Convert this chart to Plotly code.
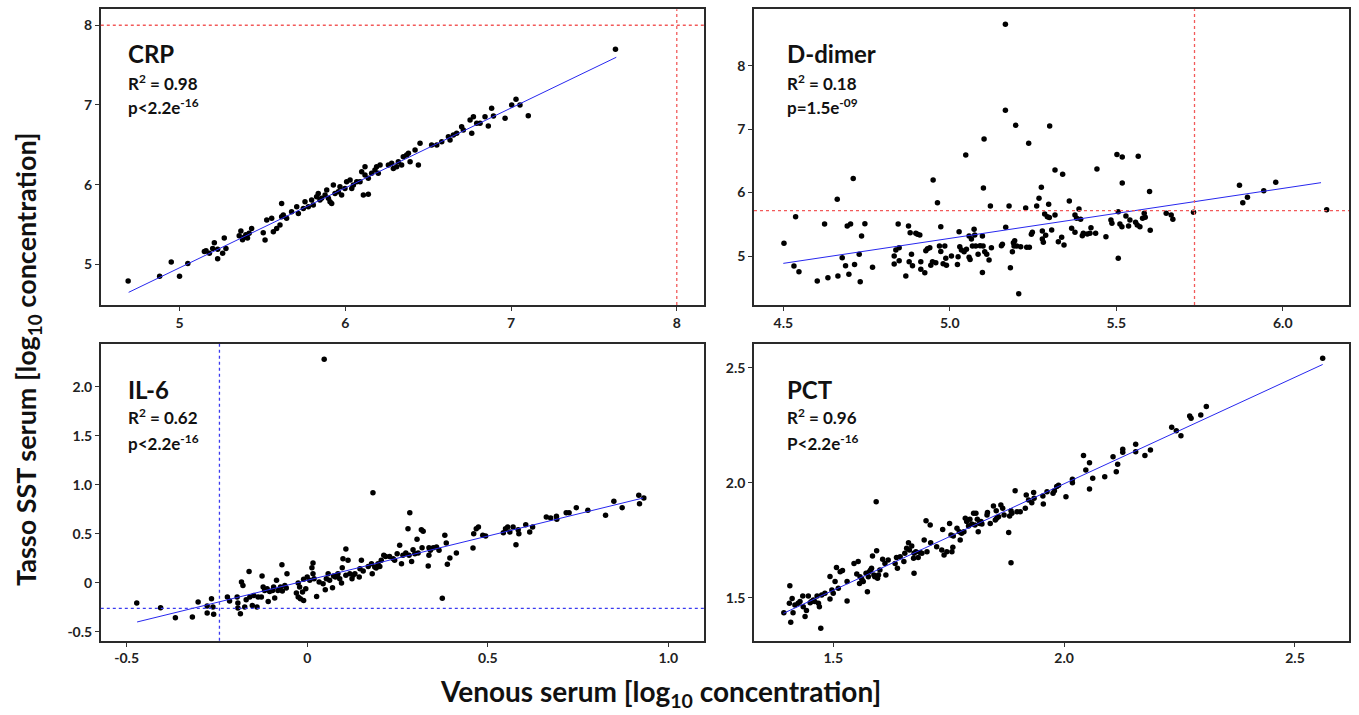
import plotly.graph_objects as go

W, H = 1359, 715

# ---------------- data (log10 concentrations) ----------------
crp_x = [4.69, 4.88, 4.95, 5.00, 5.05, 5.15, 5.16, 5.18, 5.20, 5.21, 5.23, 5.23, 5.26, 5.27, 5.28,
         5.36, 5.37, 5.38, 5.39, 5.40, 5.41, 5.42,
         5.435, 5.505, 5.516, 5.526, 5.556, 5.566, 5.586, 5.606, 5.616, 5.616, 5.626, 5.646, 5.676,
         5.707, 5.717, 5.747, 5.757, 5.777, 5.797, 5.807, 5.827, 5.837, 5.847, 5.857, 5.878, 5.888,
         5.898, 5.908, 5.918, 5.928, 5.938, 5.958, 5.968, 5.978, 5.998, 6.008, 6.029, 6.039, 6.049,
         6.069, 6.089, 6.099, 6.109, 6.119, 6.119, 6.139, 6.139, 6.159, 6.179, 6.189, 6.199, 6.210,
         6.260, 6.280, 6.290, 6.310, 6.320, 6.340, 6.350, 6.370, 6.381, 6.391, 6.421, 6.441, 6.451,
         6.521, 6.552, 6.582, 6.622, 6.632, 6.652, 6.672, 6.702, 6.712, 6.753, 6.763, 6.773, 6.793,
         6.813, 6.843, 6.863, 6.883, 6.894, 6.964, 7.004, 7.030, 7.054, 7.104, 7.63]
crp_y = [4.79, 4.85, 5.03, 4.85, 5.01, 5.16, 5.17, 5.14, 5.20, 5.27, 5.19, 5.07, 5.14, 5.33, 5.20,
         5.36, 5.42, 5.31, 5.34, 5.37, 5.33, 5.39,
         5.451, 5.397, 5.305, 5.556, 5.577, 5.409, 5.451, 5.493, 5.765, 5.598, 5.619, 5.577, 5.660,
         5.723, 5.639, 5.702, 5.786, 5.723, 5.807, 5.744, 5.849, 5.890, 5.807, 5.828, 5.870, 5.932,
         5.828, 5.786, 5.765, 5.995, 5.890, 5.911, 5.974, 5.870, 5.953, 6.037, 6.058, 5.953, 5.995,
         6.037, 6.037, 6.162, 5.870, 6.225, 6.121, 5.878, 6.079, 6.142, 6.183, 6.225, 6.142, 6.246,
         6.246, 6.267, 6.204, 6.225, 6.288, 6.246, 6.351, 6.372, 6.393, 6.288, 6.434, 6.246, 6.518,
         6.497, 6.497, 6.539, 6.602, 6.560, 6.623, 6.644, 6.727, 6.685, 6.811, 6.644, 6.853, 6.769,
         6.769, 6.853, 6.736, 6.957, 6.861, 6.832, 6.999, 7.070, 6.999, 6.865, 7.70]
crp_fit_x = [4.693, 7.635]
crp_fit_y = [4.649, 7.598]

dd_x = [4.502, 4.532, 4.537, 4.547, 4.602, 4.624, 4.634, 4.662, 4.664, 4.677, 4.687, 4.692, 4.697,
        4.702, 4.710, 4.714, 4.728, 4.731, 4.735, 4.745, 4.768, 4.833, 4.833, 4.838, 4.845, 4.848,
        4.848, 4.868, 4.876, 4.878, 4.881, 4.885, 4.888, 4.898, 4.903, 4.910, 4.913, 4.913, 4.925,
        4.928, 4.933, 4.940, 4.943, 4.948, 4.950, 4.958, 4.963, 4.969, 4.973, 4.973, 4.980, 4.985,
        4.988, 4.990, 5.005, 5.023, 5.025, 5.028, 5.030, 5.035, 5.043, 5.048, 5.050, 5.058, 5.058,
        5.061, 5.065, 5.068, 5.073, 5.075, 5.078, 5.085, 5.091, 5.098, 5.098, 5.100, 5.101, 5.103,
        5.105, 5.111, 5.118, 5.122, 5.125, 5.155, 5.158, 5.167, 5.167, 5.168, 5.178, 5.182, 5.188,
        5.191, 5.193, 5.195, 5.198, 5.201, 5.207, 5.213, 5.228, 5.231, 5.237, 5.239, 5.245, 5.248,
        5.261, 5.268, 5.275, 5.278, 5.278, 5.281, 5.285, 5.288, 5.293, 5.297, 5.299, 5.300, 5.306,
        5.316, 5.339, 5.316, 5.359, 5.366, 5.376, 5.376, 5.381, 5.388, 5.393, 5.398, 5.401, 5.413,
        5.424, 5.421, 5.438, 5.326, 5.336, 5.343, 5.442, 5.469, 5.484, 5.487, 5.502, 5.506, 5.506,
        5.511, 5.517, 5.518, 5.518, 5.529, 5.537, 5.541, 5.558, 5.563, 5.566, 5.571, 5.579, 5.584,
        5.587, 5.600, 5.602, 5.650, 5.665, 5.670, 5.732, 5.870, 5.880, 5.894, 5.943, 5.979, 6.132]
dd_y = [5.200, 4.842, 5.620, 4.753, 4.606, 5.505, 4.658, 5.894, 4.684, 4.974, 4.847, 5.473, 4.711,
        5.505, 6.220, 4.868, 5.026, 4.595, 5.315, 5.510, 4.821, 5.000, 4.874, 5.095, 5.505, 5.131,
        4.926, 4.684, 5.473, 4.911, 5.368, 5.026, 4.847, 5.357, 5.342, 5.331, 4.911, 4.790, 4.737,
        5.084, 5.116, 5.131, 4.853, 4.911, 6.199, 4.895, 5.841, 5.158, 5.463, 5.073, 4.879, 5.158,
        4.963, 4.853, 5.000, 4.868, 4.989, 5.384, 5.147, 5.095, 5.068, 6.593, 5.105, 5.315, 4.979,
        4.947, 5.268, 5.158, 5.421, 5.331, 5.158, 5.026, 5.163, 4.742, 5.315, 5.158, 6.072, 6.845,
        5.068, 5.026, 4.937, 5.789, 5.131, 5.163, 5.184, 8.652, 7.296, 5.452, 5.789, 4.816, 5.068,
        5.210, 5.158, 5.242, 7.061, 5.158, 4.406, 5.147, 5.757, 5.137, 6.777, 5.137, 5.342, 5.373,
        5.789, 5.909, 6.083, 5.394, 5.268, 5.215, 5.662, 5.326, 5.620, 5.815, 5.605, 7.050, 5.410,
        6.356, 6.288, 5.647, 5.867, 5.436, 5.647, 5.373, 5.594, 5.741, 5.578, 5.321, 5.357, 5.347,
        5.447, 5.357, 5.357, 5.226, 5.294, 5.173, 6.372, 5.305, 5.568, 5.515, 6.598, 5.699, 4.963,
        5.505, 5.463, 6.561, 6.151, 5.631, 5.473, 5.568, 5.531, 5.489, 6.572, 5.463, 5.594, 5.673,
        5.610, 6.015, 5.405, 5.673, 5.647, 5.578, 5.689, 6.114, 5.841, 5.925, 6.030, 6.162, 5.731]
dd_fit_x = [4.50, 6.115]
dd_fit_y = [4.884, 6.156]

il6_x = [-0.472, -0.406, -0.365, -0.318, -0.302, -0.277, -0.277, -0.265, -0.261, -0.259, -0.221,
         -0.215, -0.194, -0.192, -0.192, -0.185, -0.182, -0.178, -0.173, -0.169, -0.161, -0.159,
         -0.152, -0.148, -0.139, -0.136, -0.127, -0.125, -0.122, -0.118, -0.111, -0.108, -0.104,
         -0.096, -0.093, -0.090, -0.085, -0.081, -0.074, -0.070, -0.069, -0.062, -0.058, -0.056,
         -0.030, -0.025, -0.025, -0.021, -0.019, -0.013, -0.010, -0.010, -0.004, 0.000, 0.007, 0.013,
         0.016, 0.016, 0.019, 0.026, 0.033, 0.044, 0.047, 0.050, 0.053, 0.058, 0.062, 0.070, 0.073,
         0.078, 0.083, 0.085, 0.090, 0.095, 0.097, 0.099, 0.107, 0.107, 0.113, 0.118, 0.124, 0.127,
         0.132, 0.144, 0.146, 0.150, 0.155, 0.169, 0.178, 0.180, 0.182, 0.187, 0.191, 0.196, 0.201,
         0.205, 0.212, 0.217, 0.228, 0.238, 0.242, 0.249, 0.256, 0.261, 0.265, 0.273, 0.279, 0.282,
         0.284, 0.289, 0.293, 0.298, 0.304, 0.307, 0.316, 0.318, 0.321, 0.335, 0.337, 0.337, 0.341,
         0.349, 0.358, 0.365, 0.374, 0.381, 0.385, 0.388, 0.395, 0.413, 0.459, 0.461, 0.468, 0.474,
         0.486, 0.494, 0.543, 0.549, 0.555, 0.561, 0.570, 0.578, 0.584, 0.586, 0.605, 0.616, 0.624,
         0.662, 0.674, 0.690, 0.691, 0.717, 0.725, 0.745, 0.777, 0.826, 0.849, 0.872, 0.918, 0.920,
         0.932]
il6_y = [-0.207, -0.255, -0.357, -0.351, -0.198, -0.238, -0.310, -0.164, -0.249, -0.323, -0.147,
         -0.187, -0.147, -0.208, -0.259, -0.317, 0.006, -0.028, -0.249, -0.174, 0.115, -0.147,
         -0.232, -0.130, -0.249, -0.147, -0.147, 0.068, -0.045, -0.079, -0.062, -0.191, -0.089,
         -0.079, -0.045, -0.157, 0.024, -0.079, -0.045, 0.183, -0.085, -0.028, -0.055, 0.092,
         -0.106, -0.004, -0.147, -0.045, -0.164, -0.095, -0.181, 0.034, -0.062, 0.058, 0.024, 0.153,
         0.092, 0.200, 0.041, -0.140, 0.006, -0.011, 2.279, -0.072, 0.041, 0.092, 0.024, -0.051,
         0.068, 0.058, 0.075, 0.092, 0.041, -0.004, 0.153, 0.245, 0.343, 0.075, 0.228, 0.092, 0.041,
         0.075, 0.092, 0.058, 0.143, 0.228, 0.119, 0.166, 0.194, 0.092, 0.918, 0.160, 0.149, 0.194,
         0.166, 0.228, 0.279, 0.268, 0.268, 0.245, 0.228, 0.296, 0.381, 0.194, 0.279, 0.302, 0.551,
         0.279, 0.714, 0.217, 0.336, 0.296, 0.442, 0.302, 0.541, 0.357, 0.524, 0.170, 0.279, 0.357,
         0.330, 0.357, 0.364, 0.330, -0.160, 0.483, 0.404, 0.187, 0.251, 0.302, 0.353, 0.500, 0.551,
         0.568, 0.483, 0.476, 0.510, 0.551, 0.568, 0.517, 0.568, 0.388, 0.541, 0.500, 0.592, 0.517,
         0.568, 0.670, 0.660, 0.677, 0.646, 0.714, 0.714, 0.765, 0.738, 0.687, 0.830, 0.765, 0.891,
         0.806, 0.864]
il6_fit_x = [-0.471, 0.930]
il6_fit_y = [-0.401, 0.864]

pct_x = [1.393, 1.406, 1.408, 1.405, 1.411, 1.413, 1.417, 1.424, 1.428, 1.434, 1.435, 1.439, 1.442,
         1.446, 1.450, 1.453, 1.457, 1.460, 1.465, 1.468, 1.470, 1.473, 1.475, 1.482, 1.493, 1.493,
         1.497, 1.500, 1.504, 1.507, 1.511, 1.515, 1.520, 1.530, 1.530, 1.545, 1.551, 1.554, 1.557,
         1.558, 1.562, 1.565, 1.571, 1.574, 1.576, 1.578, 1.581, 1.583, 1.585, 1.588, 1.590, 1.593,
         1.594, 1.596, 1.598, 1.601, 1.607, 1.612, 1.614, 1.619, 1.634, 1.637, 1.639, 1.645, 1.653,
         1.655, 1.659, 1.663, 1.665, 1.670, 1.674, 1.675, 1.675, 1.679, 1.684, 1.688, 1.692, 1.697,
         1.701, 1.703, 1.710, 1.711, 1.724, 1.735, 1.737, 1.740, 1.746, 1.752, 1.755, 1.757, 1.759,
         1.760, 1.768, 1.773, 1.775, 1.778, 1.783, 1.786, 1.789, 1.793, 1.796, 1.800, 1.804, 1.807,
         1.809, 1.812, 1.814, 1.817, 1.820, 1.822, 1.833, 1.834, 1.840, 1.847, 1.851, 1.853, 1.854,
         1.858, 1.863, 1.867, 1.870, 1.880, 1.882, 1.885, 1.885, 1.887, 1.894, 1.898, 1.905, 1.916,
         1.918, 1.923, 1.930, 1.934, 1.935, 1.954, 1.955, 1.963, 1.976, 1.979, 1.984, 1.988, 2.004,
         2.018, 2.018, 2.042, 2.047, 2.055, 2.055, 2.062, 2.088, 2.106, 2.113, 2.116, 2.127, 2.127,
         2.155, 2.155, 2.175, 2.187, 2.233, 2.243, 2.253, 2.272, 2.275, 2.296, 2.308, 2.560]
pct_y = [1.435, 1.552, 1.393, 1.476, 1.497, 1.435, 1.468, 1.476, 1.483, 1.507, 1.461, 1.418, 1.444,
         1.507, 1.478, 1.483, 1.490, 1.483, 1.507, 1.476, 1.461, 1.367, 1.512, 1.519, 1.494, 1.592,
         1.533, 1.519, 1.570, 1.631, 1.541, 1.613, 1.618, 1.570, 1.486, 1.649, 1.603, 1.657, 1.562,
         1.591, 1.580, 1.570, 1.606, 1.526, 1.591, 1.613, 1.620, 1.628, 1.681, 1.599, 1.591, 1.917,
         1.704, 1.584, 1.599, 1.620, 1.667, 1.649, 1.599, 1.664, 1.649, 1.675, 1.628, 1.678, 1.657,
         1.693, 1.715, 1.739, 1.707, 1.725, 1.671, 1.693, 1.606, 1.700, 1.675, 1.696, 1.693, 1.751,
         1.835, 1.700, 1.816, 1.739, 1.722, 1.707, 1.797, 1.686, 1.700, 1.823, 1.773, 1.700, 1.719,
         1.768, 1.802, 1.787, 1.751, 1.780, 1.787, 1.845, 1.831, 1.812, 1.841, 1.820, 1.867, 1.816,
         1.867, 1.841, 1.787, 1.823, 1.831, 1.820, 1.860, 1.870, 1.823, 1.899, 1.838, 1.878, 1.845,
         1.852, 1.903, 1.889, 1.860, 1.783, 1.855, 1.652, 1.878, 1.867, 1.965, 1.874, 1.874, 1.889,
         1.947, 1.925, 1.913, 1.957, 1.932, 1.942, 1.907, 1.961, 1.954, 1.965, 1.983, 1.989, 1.939,
         2.015, 2.000, 2.118, 2.055, 2.087, 1.973, 2.019, 2.026, 2.113, 2.048, 2.080, 2.145, 2.132,
         2.167, 2.135, 2.118, 2.142, 2.241, 2.226, 2.204, 2.290, 2.280, 2.294, 2.331, 2.541]
pct_fit_x = [1.392, 2.560]
pct_fit_y = [1.432, 2.514]

# reference (cut-off) lines
crp_ref_x, crp_ref_y = 8.0, 8.0
dd_ref_x, dd_ref_y = 5.735, 5.716
il6_ref_x, il6_ref_y = -0.243, -0.262

panels = [
    dict(name="CRP", r2="0.98", p="p&lt;2.2e<sup>-16</sup>", x=crp_x, y=crp_y, fx=crp_fit_x, fy=crp_fit_y,
         xr=[4.525, 8.163], yr=[4.49, 8.2], xt=[5, 6, 7, 8], xtt=["5", "6", "7", "8"],
         yt=[5, 6, 7, 8], ytt=["5", "6", "7", "8"], dom_x=[100.8, 703.8], dom_y=[9.3, 305],
         ref=(crp_ref_x, crp_ref_y, "#f25a5a"), lab=(126, 53, 82, 107)),
    dict(name="D-dimer", r2="0.18", p="p=1.5e<sup>-09</sup>", x=dd_x, y=dd_y, fx=dd_fit_x, fy=dd_fit_y,
         xr=[4.412, 6.199], yr=[4.228, 8.888], xt=[4.5, 5.0, 5.5, 6.0], xtt=["4.5", "5.0", "5.5", "6.0"],
         yt=[5, 6, 7, 8], ytt=["5", "6", "7", "8"], dom_x=[754, 1349], dom_y=[9.3, 305],
         ref=(dd_ref_x, dd_ref_y, "#f25a5a"), lab=(785, 53, 82, 107)),
    dict(name="IL-6", r2="0.62", p="p&lt;2.2e<sup>-16</sup>", x=il6_x, y=il6_y, fx=il6_fit_x, fy=il6_fit_y,
         xr=[-0.5715, 1.098], yr=[-0.592, 2.435], xt=[-0.5, 0, 0.5, 1.0], xtt=["-0.5", "0", "0.5", "1.0"],
         yt=[-0.5, 0, 0.5, 1.0, 1.5, 2.0], ytt=["-0.5", "0", "0.5", "1.0", "1.5", "2.0"],
         dom_x=[100.8, 703.8], dom_y=[344, 640.7],
         ref=(il6_ref_x, il6_ref_y, "#3b3bf0"), lab=(126, 389, 417, 442)),
    dict(name="PCT", r2="0.96", p="P&lt;2.2e<sup>-16</sup>", x=pct_x, y=pct_y, fx=pct_fit_x, fy=pct_fit_y,
         xr=[1.3284, 2.617], yr=[1.313, 2.603], xt=[1.5, 2.0, 2.5], xtt=["1.5", "2.0", "2.5"],
         yt=[1.5, 2.0, 2.5], ytt=["1.5", "2.0", "2.5"], dom_x=[754, 1349], dom_y=[344, 640.7],
         ref=None, lab=(785, 389, 417, 442)),
]

FONT = "Lato"
fig = go.Figure()
annotations = []
shapes = []
layout = {}

for i, p in enumerate(panels):
    n = "" if i == 0 else str(i + 1)
    xa, ya = "x" + n, "y" + n

    fig.add_trace(go.Scatter(x=p["x"], y=p["y"], mode="markers", xaxis=xa, yaxis=ya,
                             marker=dict(color="black", size=5.5), showlegend=False))
    fig.add_trace(go.Scatter(x=p["fx"], y=p["fy"], mode="lines", xaxis=xa, yaxis=ya,
                             line=dict(color="#2727ee", width=1), showlegend=False))

    common = dict(showgrid=False, zeroline=False, showline=True, mirror=True, linecolor="#2a2a2a",
                  linewidth=1.6, ticks="outside", ticklen=4, tickwidth=1, tickcolor="#333",
                  tickfont=dict(family=FONT, size=14, color="#222", weight="bold"),
                  tickmode="array")
    layout["xaxis" + n] = dict(common, domain=[p["dom_x"][0] / W, p["dom_x"][1] / W], range=p["xr"],
                               tickvals=p["xt"], ticktext=p["xtt"], anchor=ya)
    layout["yaxis" + n] = dict(common, domain=[1 - p["dom_y"][1] / H, 1 - p["dom_y"][0] / H], range=p["yr"],
                               tickvals=p["yt"], ticktext=p["ytt"], anchor=xa)

    if p["ref"]:
        rx, ry, col = p["ref"]
        shapes.append(dict(type="line", xref=xa, yref=ya + " domain", x0=rx, x1=rx, y0=0, y1=1,
                           line=dict(color=col, width=1.3, dash="dot")))
        shapes.append(dict(type="line", xref=xa + " domain", yref=ya, x0=0, x1=1, y0=ry, y1=ry,
                           line=dict(color=col, width=1.3, dash="dot")))

    lx, y1, y2, y3 = p["lab"]
    annotations.append(dict(text="<b>" + p["name"] + "</b>", x=lx / W, y=1 - y1 / H, xref="paper", yref="paper",
                            xanchor="left", yanchor="middle", showarrow=False,
                            font=dict(family=FONT, size=24, color="#111")))
    annotations.append(dict(text="<b>R<sup>2</sup> = " + p["r2"] + "</b>", x=lx / W, y=1 - y2 / H,
                            xref="paper", yref="paper", xanchor="left", yanchor="middle", showarrow=False,
                            font=dict(family=FONT, size=17, color="#111")))
    annotations.append(dict(text="<b>" + p["p"] + "</b>", x=lx / W, y=1 - y3 / H,
                            xref="paper", yref="paper", xanchor="left", yanchor="middle", showarrow=False,
                            font=dict(family=FONT, size=17, color="#111")))

annotations.append(dict(text="<b>Tasso SST serum [log<sub>10</sub> concentration]</b>", textangle=-90,
                        x=27 / W, y=1 - 360 / H, xref="paper", yref="paper", showarrow=False,
                        xanchor="center", yanchor="middle", font=dict(family=FONT, size=27, color="#111")))
annotations.append(dict(text="<b>Venous serum [log<sub>10</sub> concentration]</b>",
                        x=660 / W, y=1 - 693 / H, xref="paper", yref="paper", showarrow=False,
                        xanchor="center", yanchor="middle", font=dict(family=FONT, size=28, color="#111")))

fig.update_layout(layout)
fig.update_layout(width=W, height=H, margin=dict(l=0, r=0, t=0, b=0),
                  paper_bgcolor="white", plot_bgcolor="white",
                  annotations=annotations, shapes=shapes)

# page body has a default 8px margin; drop it so the figure sits at the window origin
fig.write_html("out.html", config={"displayModeBar": False},
               post_script="document.body.style.margin='0';")
